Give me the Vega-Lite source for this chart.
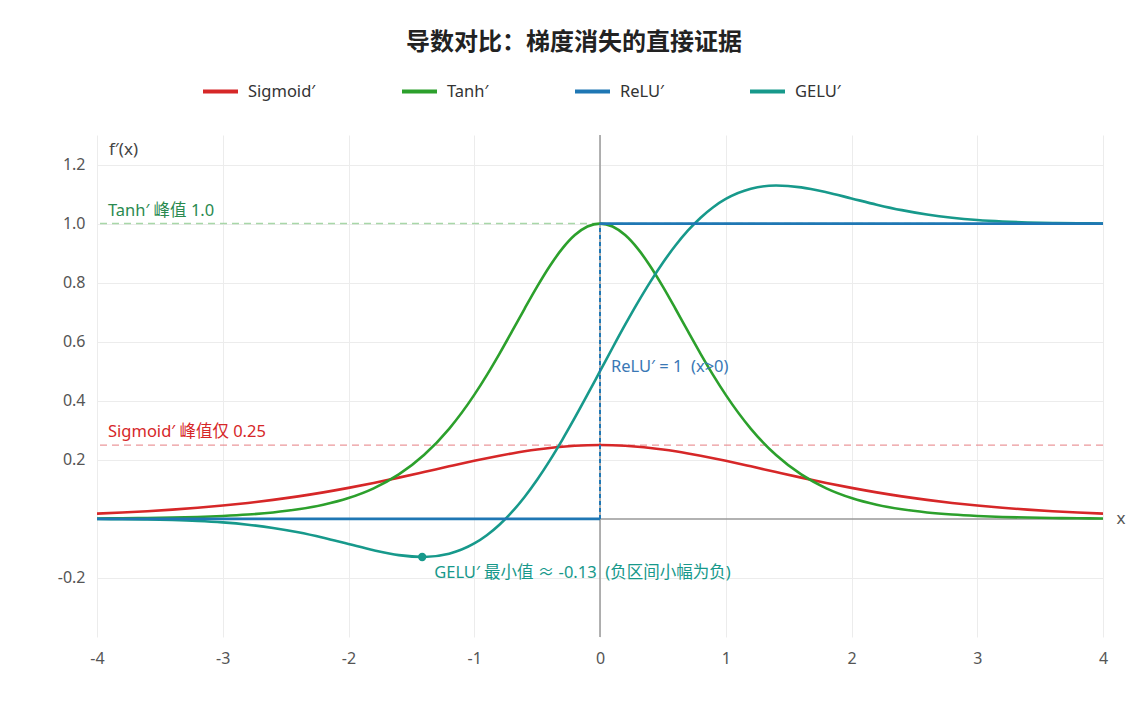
{
  "$schema": "https://vega.github.io/schema/vega-lite/v6.json",
  "autosize": {"type": "none"},
  "width": 1006,
  "height": 502,
  "padding": {"left": 97, "top": 135, "right": 45, "bottom": 85},
  "background": "#ffffff",
  "title": {
    "text": "导数对比：梯度消失的直接证据",
    "font": "Noto Sans CJK SC",
    "fontSize": 24,
    "fontWeight": "bold",
    "color": "#222222",
    "anchor": "middle",
    "dx": -26,
    "offset": 17
  },
  "datasets": {
    "curves": [
      {"x": -4.0, "Sigmoid′": 0.017663, "Tanh′": 0.001341, "GELU′": -0.000504},
      {"x": -3.8, "Sigmoid′": 0.021402, "Tanh′": 0.002000, "GELU′": -0.001038},
      {"x": -3.6, "Sigmoid′": 0.025890, "Tanh′": 0.002982, "GELU′": -0.002044},
      {"x": -3.4, "Sigmoid′": 0.031253, "Tanh′": 0.004446, "GELU′": -0.003852},
      {"x": -3.2, "Sigmoid′": 0.037632, "Tanh′": 0.006624, "GELU′": -0.006942},
      {"x": -3.0, "Sigmoid′": 0.045177, "Tanh′": 0.009866, "GELU′": -0.011946},
      {"x": -2.8, "Sigmoid′": 0.054038, "Tanh′": 0.014683, "GELU′": -0.019607},
      {"x": -2.6, "Sigmoid′": 0.064358, "Tanh′": 0.021825, "GELU′": -0.030655},
      {"x": -2.4, "Sigmoid′": 0.076255, "Tanh′": 0.032384, "GELU′": -0.045550},
      {"x": -2.2, "Sigmoid′": 0.089800, "Tanh′": 0.047925, "GELU′": -0.064142},
      {"x": -2.0, "Sigmoid′": 0.104994, "Tanh′": 0.070651, "GELU′": -0.085232},
      {"x": -1.8, "Sigmoid′": 0.121729, "Tanh′": 0.103558, "GELU′": -0.106180},
      {"x": -1.6, "Sigmoid′": 0.139764, "Tanh′": 0.150527, "GELU′": -0.122675},
      {"x": -1.4, "Sigmoid′": 0.158685, "Tanh′": 0.216153, "GELU′": -0.128861},
      {"x": -1.2, "Sigmoid′": 0.177894, "Tanh′": 0.305020, "GELU′": -0.117953},
      {"x": -1.0, "Sigmoid′": 0.196612, "Tanh′": 0.419974, "GELU′": -0.083316},
      {"x": -0.9, "Sigmoid′": 0.205499, "Tanh′": 0.486918, "GELU′": -0.055417},
      {"x": -0.8, "Sigmoid′": 0.213910, "Tanh′": 0.559055, "GELU′": -0.019899},
      {"x": -0.7, "Sigmoid′": 0.221712, "Tanh′": 0.634740, "GELU′": 0.023386},
      {"x": -0.6, "Sigmoid′": 0.228784, "Tanh′": 0.711578, "GELU′": 0.074318},
      {"x": -0.5, "Sigmoid′": 0.235004, "Tanh′": 0.786448, "GELU′": 0.132505},
      {"x": -0.4, "Sigmoid′": 0.240261, "Tanh′": 0.855639, "GELU′": 0.197270},
      {"x": -0.3, "Sigmoid′": 0.244458, "Tanh′": 0.915137, "GELU′": 0.267673},
      {"x": -0.2, "Sigmoid′": 0.247517, "Tanh′": 0.961042, "GELU′": 0.342531},
      {"x": -0.1, "Sigmoid′": 0.249376, "Tanh′": 0.990066, "GELU′": 0.420477},
      {"x": 0.0, "Sigmoid′": 0.25, "Tanh′": 1.0, "GELU′": 0.5},
      {"x": 0.1, "Sigmoid′": 0.249376, "Tanh′": 0.990066, "GELU′": 0.579523},
      {"x": 0.2, "Sigmoid′": 0.247517, "Tanh′": 0.961042, "GELU′": 0.657469},
      {"x": 0.3, "Sigmoid′": 0.244458, "Tanh′": 0.915137, "GELU′": 0.732327},
      {"x": 0.4, "Sigmoid′": 0.240261, "Tanh′": 0.855639, "GELU′": 0.802730},
      {"x": 0.5, "Sigmoid′": 0.235004, "Tanh′": 0.786448, "GELU′": 0.867495},
      {"x": 0.6, "Sigmoid′": 0.228784, "Tanh′": 0.711578, "GELU′": 0.925682},
      {"x": 0.7, "Sigmoid′": 0.221712, "Tanh′": 0.634740, "GELU′": 0.976614},
      {"x": 0.8, "Sigmoid′": 0.213910, "Tanh′": 0.559055, "GELU′": 1.019899},
      {"x": 0.9, "Sigmoid′": 0.205499, "Tanh′": 0.486918, "GELU′": 1.055417},
      {"x": 1.0, "Sigmoid′": 0.196612, "Tanh′": 0.419974, "GELU′": 1.083316},
      {"x": 1.2, "Sigmoid′": 0.177894, "Tanh′": 0.305020, "GELU′": 1.117953},
      {"x": 1.4, "Sigmoid′": 0.158685, "Tanh′": 0.216153, "GELU′": 1.128861},
      {"x": 1.6, "Sigmoid′": 0.139764, "Tanh′": 0.150527, "GELU′": 1.122675},
      {"x": 1.8, "Sigmoid′": 0.121729, "Tanh′": 0.103558, "GELU′": 1.106180},
      {"x": 2.0, "Sigmoid′": 0.104994, "Tanh′": 0.070651, "GELU′": 1.085232},
      {"x": 2.2, "Sigmoid′": 0.089800, "Tanh′": 0.047925, "GELU′": 1.064142},
      {"x": 2.4, "Sigmoid′": 0.076255, "Tanh′": 0.032384, "GELU′": 1.045550},
      {"x": 2.6, "Sigmoid′": 0.064358, "Tanh′": 0.021825, "GELU′": 1.030655},
      {"x": 2.8, "Sigmoid′": 0.054038, "Tanh′": 0.014683, "GELU′": 1.019607},
      {"x": 3.0, "Sigmoid′": 0.045177, "Tanh′": 0.009866, "GELU′": 1.011946},
      {"x": 3.2, "Sigmoid′": 0.037632, "Tanh′": 0.006624, "GELU′": 1.006942},
      {"x": 3.4, "Sigmoid′": 0.031253, "Tanh′": 0.004446, "GELU′": 1.003852},
      {"x": 3.6, "Sigmoid′": 0.025890, "Tanh′": 0.002982, "GELU′": 1.002044},
      {"x": 3.8, "Sigmoid′": 0.021402, "Tanh′": 0.002000, "GELU′": 1.001038},
      {"x": 4.0, "Sigmoid′": 0.017663, "Tanh′": 0.001341, "GELU′": 1.000504}
    ],
    "relu": [
      {"x": -4, "y": 0, "seg": "neg", "fn": "ReLU′"},
      {"x": 0, "y": 0, "seg": "neg", "fn": "ReLU′"},
      {"x": 0, "y": 1, "seg": "pos", "fn": "ReLU′"},
      {"x": 4, "y": 1, "seg": "pos", "fn": "ReLU′"}
    ],
    "one": [{}]
  },
  "encoding": {
    "x": {
      "type": "quantitative",
      "scale": {"domain": [-4, 4], "nice": false},
      "axis": {
        "values": [-4, -3, -2, -1, 0, 1, 2, 3, 4],
        "format": "d",
        "labelExpr": "replace(datum.label, '\u2212', '-')",
        "labelFlush": false,
        "title": null
      }
    },
    "y": {
      "type": "quantitative",
      "scale": {"domain": [-0.4, 1.3], "nice": false, "zero": false},
      "axis": {
        "values": [-0.2, 0.2, 0.4, 0.6, 0.8, 1.0, 1.2],
        "format": ".1f",
        "labelExpr": "replace(datum.label, '\u2212', '-')",
        "title": null
      }
    }
  },
  "layer": [
    {
      "data": {"name": "one"},
      "mark": {"type": "rule", "color": "#e8868a", "opacity": 0.85, "strokeWidth": 1.3, "strokeDash": [7, 5]},
      "encoding": {"y": {"datum": 0.25}}
    },
    {
      "data": {"name": "one"},
      "mark": {"type": "rule", "color": "#9fd39f", "opacity": 0.9, "strokeWidth": 1.5, "strokeDash": [7, 5]},
      "encoding": {"y": {"datum": 1.0}}
    },
    {
      "data": {"name": "one"},
      "mark": {"type": "rule", "color": "#999999", "strokeWidth": 1.5},
      "encoding": {"y": {"datum": 0}}
    },
    {
      "data": {"name": "one"},
      "mark": {"type": "rule", "color": "#999999", "strokeWidth": 1.5},
      "encoding": {"x": {"datum": 0}}
    },
    {
      "data": {"name": "curves"},
      "transform": [{"fold": ["Sigmoid′", "Tanh′", "GELU′"], "as": ["fn", "y"]}],
      "mark": {"type": "line", "interpolate": "monotone", "strokeWidth": 2.6},
      "encoding": {
        "x": {"field": "x"},
        "y": {"field": "y"},
        "color": {
          "field": "fn",
          "type": "nominal",
          "scale": {
            "domain": ["Sigmoid′", "Tanh′", "ReLU′", "GELU′"],
            "range": ["#d62728", "#2ca02c", "#1f77b4", "#17998b"]
          },
          "legend": {
            "orient": "none",
            "legendX": 104,
            "legendY": -63,
            "direction": "horizontal",
            "columns": 4,
            "gridAlign": "none",
            "columnPadding": 78,
            "title": null,
            "symbolType": "stroke",
            "symbolSize": 1225,
            "symbolStrokeWidth": 4,
            "labelFontSize": 16.5,
            "labelColor": "#333333",
            "labelOffset": 8
          }
        }
      }
    },
    {
      "data": {"name": "relu"},
      "mark": {"type": "line", "strokeWidth": 2.8},
      "encoding": {
        "x": {"field": "x"},
        "y": {"field": "y"},
        "detail": {"field": "seg"},
        "color": {"field": "fn", "type": "nominal"}
      }
    },
    {
      "data": {"name": "one"},
      "mark": {"type": "rule", "color": "#1f77b4", "strokeWidth": 2, "strokeDash": [4, 3]},
      "encoding": {"x": {"datum": 0}, "y": {"datum": 0}, "y2": {"datum": 1}}
    },
    {
      "data": {"name": "one"},
      "mark": {"type": "point", "filled": true, "opacity": 1, "size": 70, "color": "#17998b"},
      "encoding": {"x": {"datum": -1.414}, "y": {"datum": -0.1289}}
    },
    {
      "data": {"name": "one"},
      "mark": {"type": "text", "text": "GELU′ 最小值 ≈ -0.13\u00a0\u00a0(负区间小幅为负)", "align": "left", "baseline": "middle", "dx": 12, "dy": 16, "fontSize": 16.5, "color": "#17998b"},
      "encoding": {"x": {"datum": -1.414}, "y": {"datum": -0.1289}}
    },
    {
      "data": {"name": "one"},
      "mark": {"type": "text", "text": "ReLU′ = 1 \u00a0(x>0)", "align": "left", "baseline": "middle", "dx": 11, "fontSize": 16.5, "color": "#3a78b5"},
      "encoding": {"x": {"datum": 0}, "y": {"datum": 0.516}}
    },
    {
      "data": {"name": "one"},
      "mark": {"type": "text", "text": "Tanh′ 峰值 1.0", "align": "left", "baseline": "middle", "dx": 11, "dy": -13, "fontSize": 16.5, "color": "#2a8a50"},
      "encoding": {"x": {"datum": -4}, "y": {"datum": 1.0}}
    },
    {
      "data": {"name": "one"},
      "mark": {"type": "text", "text": "Sigmoid′ 峰值仅 0.25", "align": "left", "baseline": "middle", "dx": 11, "dy": -13, "fontSize": 16.5, "color": "#d62728"},
      "encoding": {"x": {"datum": -4}, "y": {"datum": 0.25}}
    },
    {
      "data": {"name": "one"},
      "mark": {"type": "text", "text": "f′(x)", "align": "left", "baseline": "middle", "dx": 12, "fontSize": 17, "color": "#444444"},
      "encoding": {"x": {"datum": -4}, "y": {"datum": 1.25}}
    },
    {
      "data": {"name": "one"},
      "mark": {"type": "text", "text": "x", "align": "center", "baseline": "middle", "dx": 18, "fontSize": 17, "color": "#555555"},
      "encoding": {"x": {"datum": 4}, "y": {"datum": 0}}
    }
  ],
  "config": {
    "font": "Noto Sans, Noto Sans CJK SC, sans-serif",
    "view": {"stroke": null},
    "axis": {
      "grid": true,
      "gridColor": "#ececec",
      "gridWidth": 1,
      "domain": false,
      "ticks": false,
      "labelFontSize": 16,
      "labelColor": "#555555"
    },
    "axisX": {"labelPadding": 13},
    "axisY": {"labelPadding": 12}
  }
}
